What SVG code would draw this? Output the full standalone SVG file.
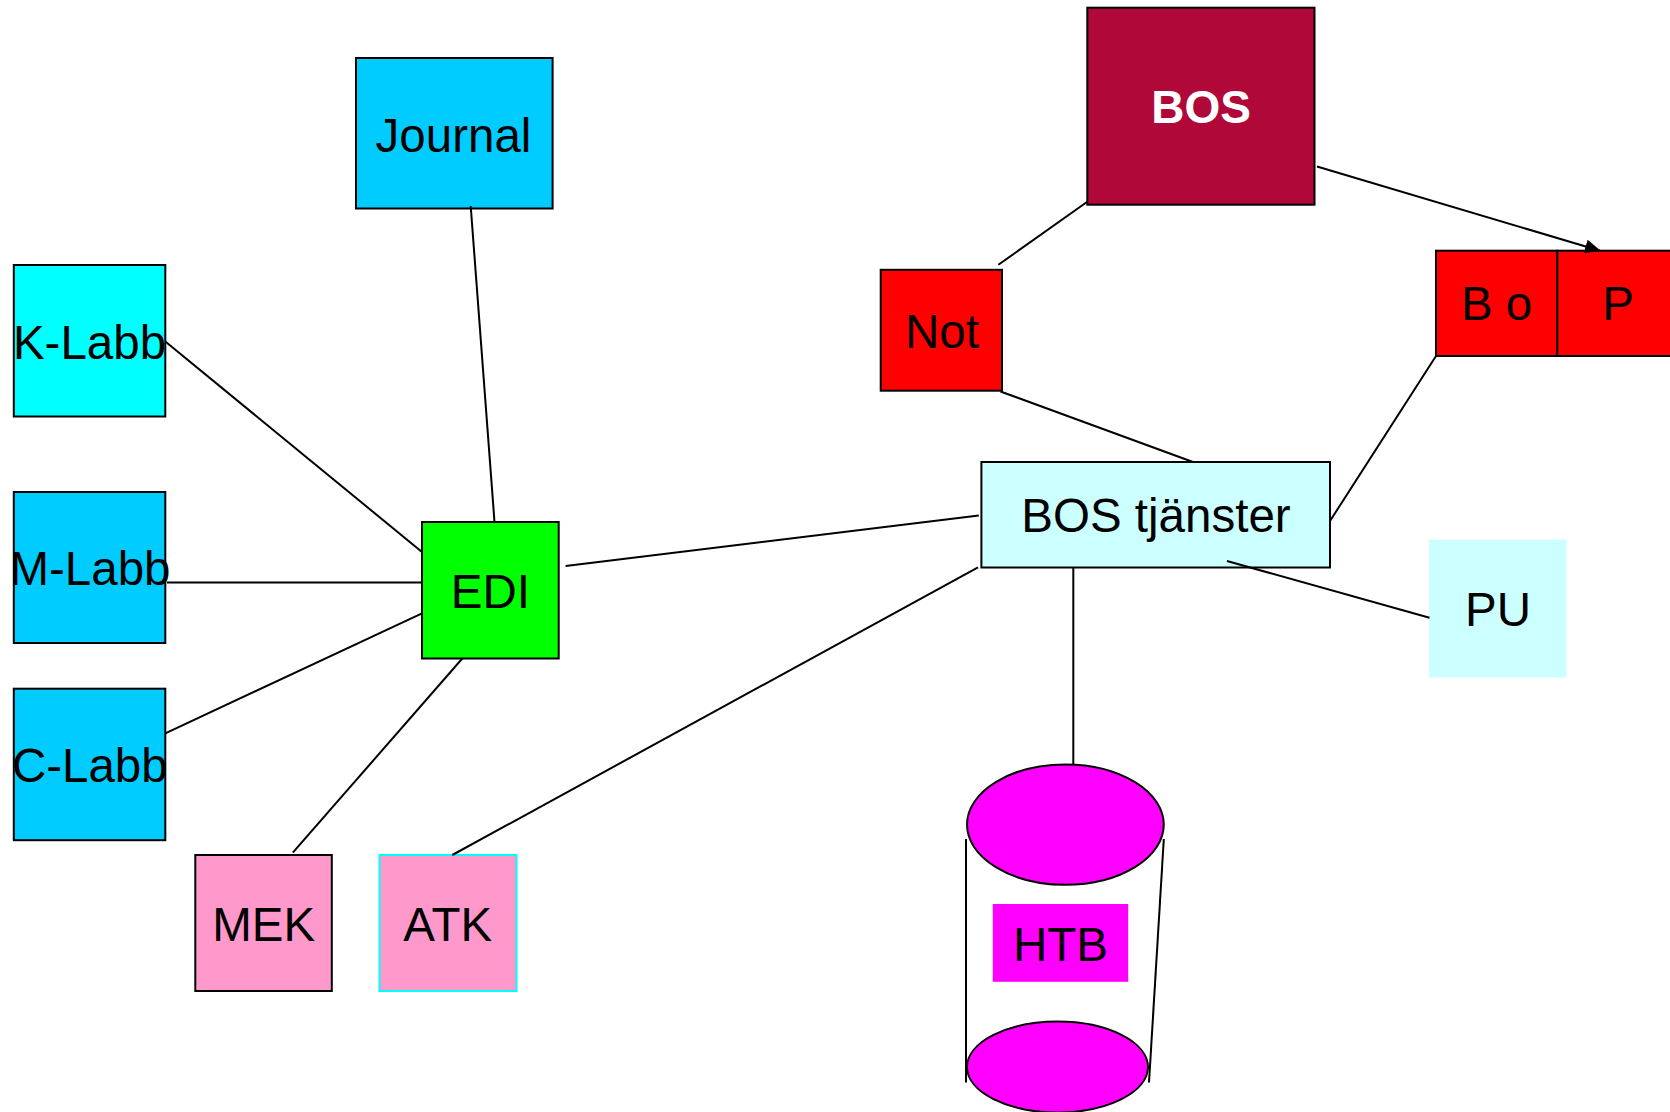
<svg xmlns="http://www.w3.org/2000/svg" width="1670" height="1112" viewBox="0 0 1670 1112">
<style>
.box{stroke:#000;stroke-width:2}
.lbl{font-family:"Liberation Sans",Arial,sans-serif;font-size:47.5px;fill:#000;text-anchor:middle}
.ln{stroke:#000;stroke-width:2;fill:none}
</style>
<defs>
<marker id="arr" markerWidth="16" markerHeight="14" refX="15" refY="7" orient="auto" markerUnits="userSpaceOnUse" viewBox="0 0 16 14">
<path d="M0,0 L16,7 L0,14 z" fill="#000"/>
</marker>
</defs>
<rect width="1670" height="1112" fill="#fff"/>
<g id="Journal"><rect class="box" x="356" y="58" width="196.6" height="150.5" fill="#00CCFF"/><text class="lbl" x="453.5" y="152">Journal</text></g>
<g id="KLabb"><rect class="box" x="13.8" y="265" width="151.5" height="151.5" fill="#00FFFF"/><text class="lbl" x="89.5" y="359">K-Labb</text></g>
<g id="MLabb"><rect class="box" x="13.8" y="492" width="151.5" height="151" fill="#00CCFF"/><text class="lbl" x="90" y="585">M-Labb</text></g>
<g id="CLabb"><rect class="box" x="13.8" y="688.7" width="151.5" height="151.5" fill="#00CCFF"/><text class="lbl" x="89.8" y="782">C-Labb</text></g>
<g id="EDI"><rect class="box" x="422" y="522" width="136.7" height="136.5" fill="#00FF00"/><text class="lbl" x="490.3" y="608">EDI</text></g>
<g id="MEK"><rect class="box" x="195.3" y="855" width="136.5" height="136" fill="#FF99CC"/><text class="lbl" x="263.7" y="941">MEK</text></g>
<g id="ATK"><rect x="379.5" y="855" width="137" height="136" fill="#FF99CC" stroke="#00FFFF" stroke-width="2"/><text class="lbl" x="447.7" y="941">ATK</text></g>
<g id="BOS"><rect class="box" x="1087.3" y="7.7" width="227.2" height="197" fill="#B00838"/><text class="lbl" x="1201" y="122.5" style="fill:#fff;font-weight:bold;font-size:46px">BOS</text></g>
<g id="Not"><rect class="box" x="880.7" y="269.8" width="121.3" height="120.9" fill="#FF0000"/><text class="lbl" x="942" y="347.5">Not</text></g>
<g id="BOStjanster"><rect class="box" x="981.4" y="462" width="348.6" height="105.5" fill="#CCFFFF"/><text class="lbl" x="1156" y="532">BOS tjänster</text></g>
<g id="Bo"><rect class="box" x="1436" y="250.7" width="121.3" height="105.3" fill="#FF0000"/><text class="lbl" x="1496.6" y="319.6">B o</text></g>
<g id="P"><rect class="box" x="1557.3" y="250.7" width="121.3" height="105.3" fill="#FF0000"/><text class="lbl" x="1618" y="319.6">P</text></g>
<g id="PU"><rect x="1429" y="539.6" width="137.5" height="138" fill="#CCFFFF"/><text class="lbl" x="1498" y="625.7">PU</text></g>
<g id="HTB">
<line class="ln" x1="966" y1="839" x2="966" y2="1082.5"/>
<line class="ln" x1="1163.8" y1="839" x2="1149" y2="1082.5"/>
<ellipse cx="1057.5" cy="1067" rx="90.5" ry="45.5" fill="#FF00FF" stroke="#000" stroke-width="2"/>
<ellipse cx="1065.4" cy="824.6" rx="98.4" ry="60.2" fill="#FF00FF" stroke="#000" stroke-width="2"/>
<rect x="992.8" y="904" width="135.4" height="77.8" fill="#FF00FF"/>
<text class="lbl" x="1060.5" y="960.6">HTB</text>
</g>
<g id="connectors">
<line class="ln" x1="470.7" y1="206" x2="494.5" y2="522"/>
<line class="ln" x1="165.3" y1="341.5" x2="422" y2="552"/>
<line class="ln" x1="167" y1="582.6" x2="422" y2="582.6"/>
<line class="ln" x1="165.3" y1="733.3" x2="422" y2="613.3"/>
<line class="ln" x1="462.3" y1="658.5" x2="292.8" y2="852.7"/>
<line class="ln" x1="452.3" y1="855" x2="978" y2="567.4"/>
<line class="ln" x1="565.6" y1="566" x2="978.8" y2="515.5"/>
<line class="ln" x1="1087.3" y1="201.7" x2="998.4" y2="264.8"/>
<line class="ln" x1="1000.5" y1="391.5" x2="1193" y2="462"/>
<line class="ln" x1="1317" y1="166.5" x2="1600" y2="250.7" marker-end="url(#arr)"/>
<line class="ln" x1="1436" y1="356" x2="1330" y2="521"/>
<line class="ln" x1="1227" y1="561" x2="1429.5" y2="617.7"/>
<line class="ln" x1="1073.3" y1="567.4" x2="1073.3" y2="764"/>
</g>
</svg>
